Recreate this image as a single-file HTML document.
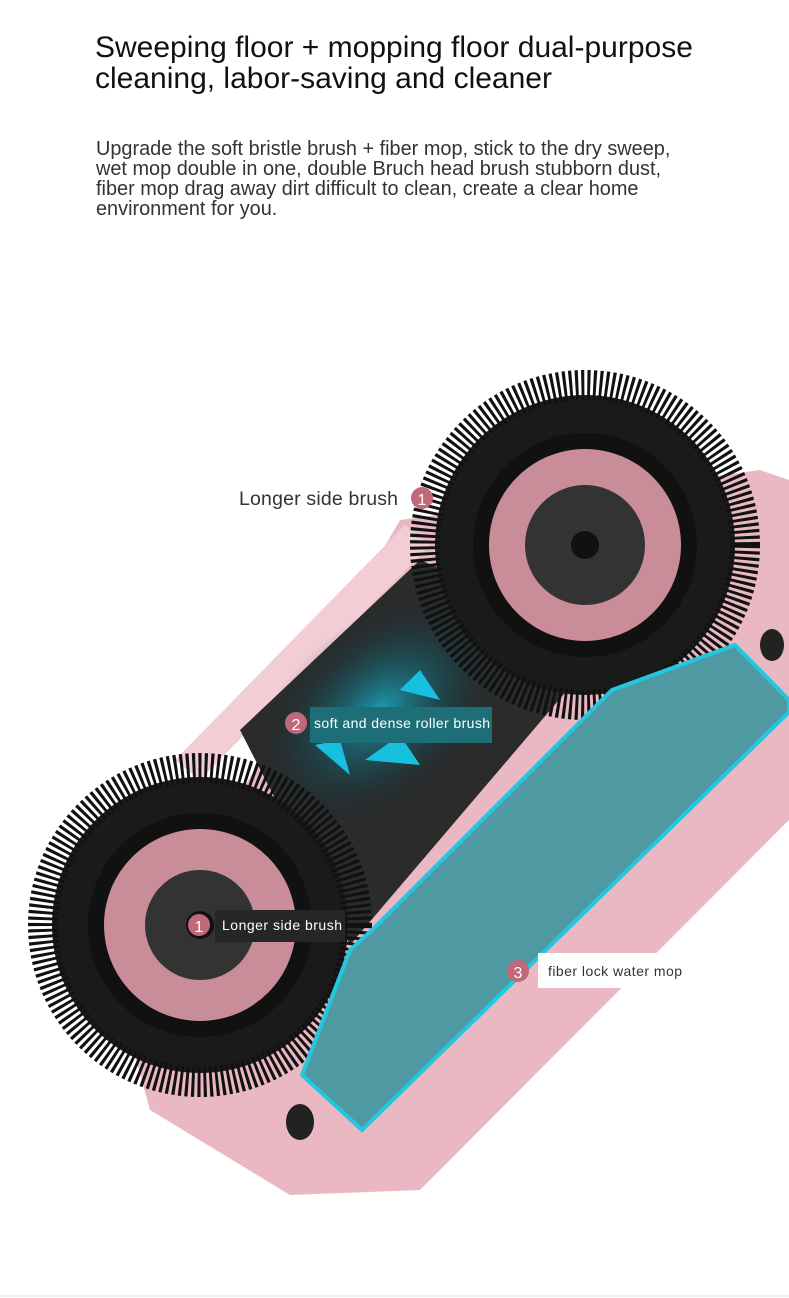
<!DOCTYPE html>
<html><head><meta charset="utf-8"><style>
html,body{margin:0;padding:0;background:#fff;}
body{width:789px;height:1298px;position:relative;overflow:hidden;font-family:"Liberation Sans",sans-serif;}
.t{position:absolute;left:95px;top:32px;font-size:30px;line-height:31px;color:#111;}
.p{position:absolute;left:96px;top:139px;font-size:19.9px;line-height:20px;color:#333;width:680px;}
svg{position:absolute;left:0;top:0;}
</style></head><body>
<div class="t">Sweeping floor + mopping floor dual-purpose<br>cleaning, labor-saving and cleaner</div>
<div class="p">Upgrade the soft bristle brush + fiber mop, stick to the dry sweep,<br>wet mop double in one, double Bruch head brush stubborn dust,<br>fiber mop drag away dirt difficult to clean, create a clear home<br>environment for you.</div>
<svg width="789" height="1298" viewBox="0 0 789 1298">
<defs>
<radialGradient id="glow" cx="50%" cy="50%" r="50%"><stop offset="0" stop-color="#1aa8c0" stop-opacity=".9"/><stop offset="1" stop-color="#0a2a30" stop-opacity="0"/></radialGradient>
</defs>
<polygon points="120,1000 400,520 760,470 789,480 789,820 420,1190 290,1195 150,1110" fill="#e9b8c3"/>
<polygon points="175,760 405,525 430,545 200,780" fill="#f3cdd5"/>
<polygon points="240,730 420,560 610,640 350,945" fill="#2b2b2b"/>
<ellipse cx="380" cy="710" rx="140" ry="90" fill="url(#glow)" transform="rotate(-40 380 710)"/>
<polygon points="400,690 440,700 420,670" fill="#18c0e0"/>
<polygon points="315,745 350,775 340,740" fill="#18c0e0"/>
<polygon points="365,760 420,765 400,735" fill="#18c0e0"/>
<g>
<circle cx="585" cy="545" r="150" fill="#1a1a1a"/>
<circle cx="585" cy="545" r="160" fill="none" stroke="#111" stroke-width="30" stroke-dasharray="3 3"/>
<circle cx="585" cy="545" r="112" fill="#111"/>
<circle cx="585" cy="545" r="96" fill="#c98d99"/>
<circle cx="585" cy="545" r="60" fill="#333"/>
<circle cx="585" cy="545" r="14" fill="#111"/>
</g>
<g>
<circle cx="200" cy="925" r="148" fill="#1a1a1a"/>
<circle cx="200" cy="925" r="157" fill="none" stroke="#111" stroke-width="30" stroke-dasharray="3 3"/>
<circle cx="200" cy="925" r="112" fill="#111"/>
<circle cx="200" cy="925" r="96" fill="#c98d99"/>
<circle cx="200" cy="925" r="55" fill="#333"/>
<circle cx="200" cy="925" r="14" fill="#111"/>
</g>
<polygon points="612,690 735,645 789,700 789,712 362,1130 302,1075 350,950 372,930" fill="#4f9aa2" stroke="#22c8e0" stroke-width="4"/>
<ellipse cx="772" cy="645" rx="12" ry="16" fill="#222"/>
<ellipse cx="300" cy="1122" rx="14" ry="18" fill="#222"/>
<circle cx="422" cy="498" r="11" fill="#c0697a"/>
<text x="422" y="505" font-size="16" fill="#fff" text-anchor="middle" font-family="Liberation Sans">1</text>
<circle cx="296" cy="723" r="11" fill="#c0697a"/>
<text x="296" y="730" font-size="16" fill="#fff" text-anchor="middle" font-family="Liberation Sans">2</text>
<rect x="310" y="707" width="182" height="36" fill="#1e6e77"/>
<text x="314" y="728" font-size="14" fill="#fff" font-family="Liberation Sans" textLength="176">soft and dense roller brush</text>
<circle cx="199" cy="925" r="11" fill="#c0697a"/>
<text x="199" y="932" font-size="16" fill="#fff" text-anchor="middle" font-family="Liberation Sans">1</text>
<rect x="215" y="910" width="130" height="32" fill="#262626"/>
<text x="222" y="930" font-size="14" fill="#fff" font-family="Liberation Sans" textLength="120">Longer side brush</text>
<circle cx="518" cy="971" r="11" fill="#c0697a"/>
<text x="518" y="978" font-size="16" fill="#fff" text-anchor="middle" font-family="Liberation Sans">3</text>
<rect x="538" y="953" width="152" height="35" fill="#fff"/>
<text x="548" y="976" font-size="14" fill="#333" font-family="Liberation Sans" textLength="134">fiber lock water mop</text>
<text x="239" y="505" font-size="19.5" fill="#333" font-family="Liberation Sans" textLength="159">Longer side brush</text>
<line x1="0" y1="1296" x2="789" y2="1296" stroke="#ddd" stroke-width="1"/>
</svg>
</body></html>
